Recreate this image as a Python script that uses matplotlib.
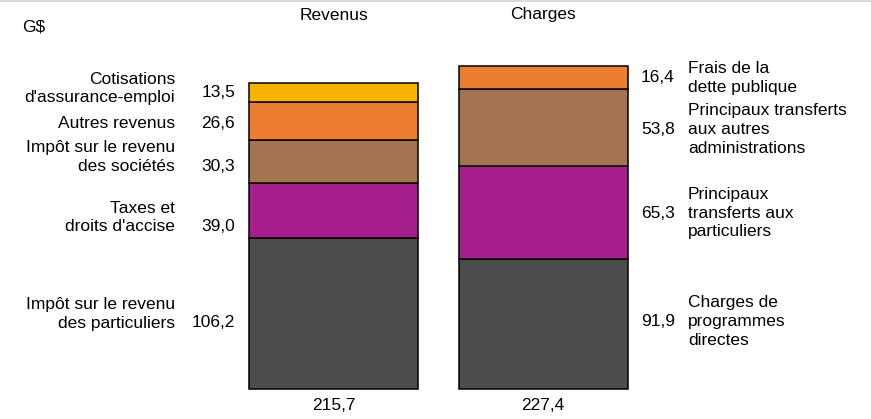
import matplotlib
matplotlib.use('Agg')
import matplotlib.pyplot as plt
from matplotlib.lines import Line2D

plt.rcParams['font.family'] = ['Liberation Sans', 'DejaVu Sans']
plt.rcParams['font.size'] = 12.5

# Revenus (bottom to top)
rev_labels = ["Impôt sur le revenu\ndes particuliers", "Taxes et\ndroits d'accise",
              "Impôt sur le revenu\ndes sociétés", "Autres revenus",
              "Cotisations\nd'assurance-emploi"]
rev_values = [106.2, 39.0, 30.3, 26.6, 13.5]
rev_text = ["106,2", "39,0", "30,3", "26,6", "13,5"]
rev_colors = ['#4d4d4d', '#a61f8c', '#a67351', '#ed7d31', '#f7b200']
rev_total = "215,7"

# Charges (bottom to top)
chg_labels = ["Charges de\nprogrammes\ndirectes", "Principaux\ntransferts aux\nparticuliers",
              "Principaux transferts\naux autres\nadministrations", "Frais de la\ndette publique"]
chg_values = [91.9, 65.3, 53.8, 16.4]
chg_text = ["91,9", "65,3", "53,8", "16,4"]
chg_colors = ['#4d4d4d', '#a61f8c', '#a67351', '#ed7d31']
chg_total = "227,4"

titles = ["Revenus", "Charges"]

# pixel helpers (1.42 px per G$)
PX = 1.42
# label / value vertical offsets from segment centre, in pixels (down = positive)
rev_val_off = [9, 16, 5, 3, 0]
rev_lab_off = [0, 7, -4, 3, -4]
chg_val_off = [-2, 1, 2, 0]

fig = plt.figure(figsize=(8.71, 4.19), dpi=100)
ax = fig.add_axes([0, 0, 1, 1])
ax.set_xlim(-333.5 / 209.5, 1 + (871 - 543) / 209.5)
ax.set_ylim(-30 / PX, 389 / PX)
ax.axis('off')

width = 169 / 209.5

bottom = 0
for i, v in enumerate(rev_values):
    ax.bar(0, v, width=width, bottom=bottom, color=rev_colors[i],
           edgecolor='black', linewidth=1.1)
    c = bottom + v / 2
    ax.text(-0.47, c - rev_val_off[i] / PX, rev_text[i], ha='right', va='center')
    ax.text(-0.757, c - rev_lab_off[i] / PX, rev_labels[i], ha='right', va='center',
            linespacing=1.32, multialignment='right')
    bottom += v

bottom = 0
for i, v in enumerate(chg_values):
    ax.bar(1, v, width=width, bottom=bottom, color=chg_colors[i],
           edgecolor='black', linewidth=1.1)
    c = bottom + v / 2
    ax.text(1.468, c - chg_val_off[i] / PX, chg_text[i], ha='left', va='center')
    ax.text(1.692, c - chg_val_off[i] / PX, chg_labels[i], ha='left', va='center',
            linespacing=1.32)
    bottom += v

for i, t in enumerate(titles):
    ax.text(i, (389 - 15) / PX, t, ha='center', va='center')
ax.text(0, (389 - 405) / PX, rev_total, ha='center', va='center')
ax.text(1, (389 - 405) / PX, chg_total, ha='center', va='center')
ax.text(-333.5 / 209.5 + 22 / 209.5, (389 - 27) / PX, "G$", ha='left', va='center')

fig.add_artist(Line2D([0, 1], [0.998, 0.998], color='#d9d9d9', linewidth=1.5,
                      transform=fig.transFigure))

fig.savefig('out.png', dpi=100)
